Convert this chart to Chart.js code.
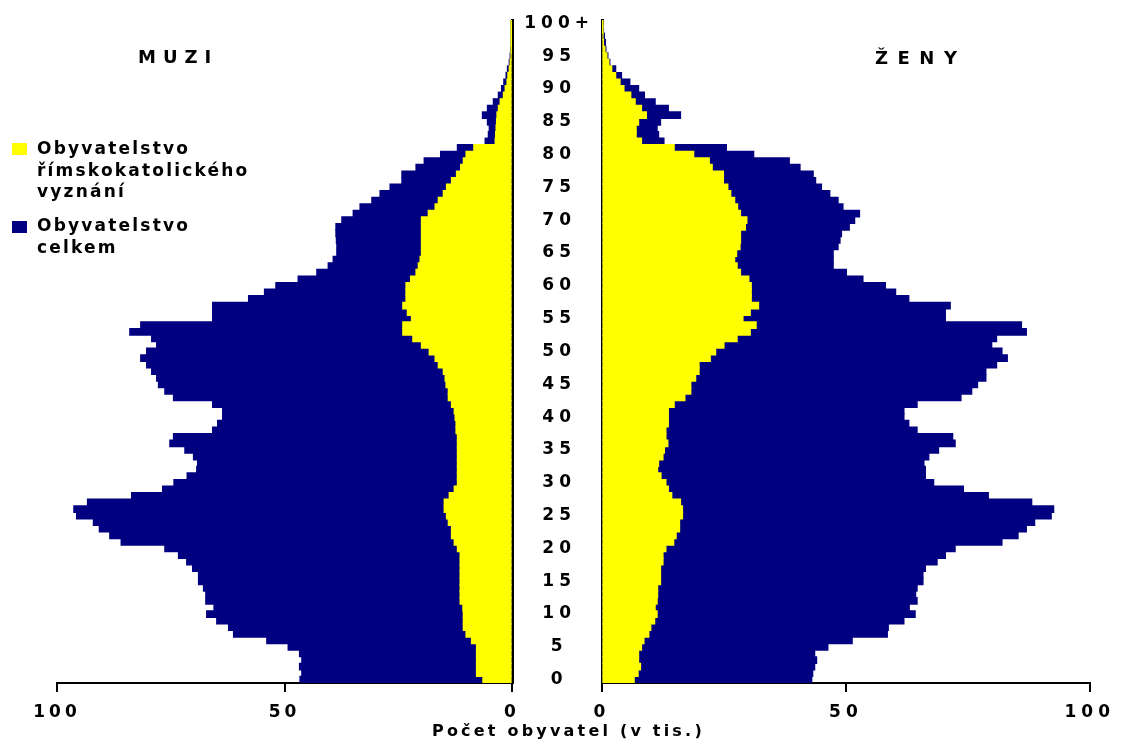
<!DOCTYPE html>
<html>
<head>
<meta charset="utf-8">
<script src="https://cdn.jsdelivr.net/npm/chart.js@4.4.1/dist/chart.umd.min.js"></script>
<style>
  html, body { margin: 0; padding: 0; background: #ffffff; }
  #wrap { position: relative; width: 1125px; height: 740px; overflow: hidden; background: #fff; }
  canvas { position: absolute; left: 0; top: 0; }
  .txt { position: absolute; font-family: "DejaVu Sans", sans-serif; color: #000; white-space: nowrap; font-weight: bold; }
  .sq { position: absolute; width: 15px; height: 12px; }
</style>
</head>
<body>
<div id="wrap">
  <canvas id="men" width="1125" height="740"></canvas>
  <canvas id="women" width="1125" height="740"></canvas>
  <div class="txt" style="left:138px; top:48px; font-size:18px; line-height:18px; letter-spacing:7px;">MUZI</div>
  <div class="txt" style="left:875px; top:49px; font-size:18px; line-height:18px; letter-spacing:9.5px;">ŽENY</div>
  <div class="sq" style="left:12px; top:143px; background:#FFFF00;"></div>
  <div class="txt" style="left:37px; top:138px; font-size:17px; line-height:21.5px; letter-spacing:2.2px;">Obyvatelstvo<br>římskokatolického<br>vyznání</div>
  <div class="sq" style="left:12px; top:221px; background:#000080;"></div>
  <div class="txt" style="left:37px; top:215px; font-size:17px; line-height:21.5px; letter-spacing:2.2px;">Obyvatelstvo<br>celkem</div>
  <div class="txt" style="left:432px; top:723px; font-size:16px; line-height:16px; letter-spacing:3.2px;">Počet obyvatel (v tis.)</div>
</div>
<script>
// Age categories 0..100 ("100+" for the last)
const ages = Array.from({ length: 101 }, (_, i) => (i === 100 ? '100+' : String(i)));
const xTicks = [0, 50, 100];

// Men, total population (thousands), index = age
const menTotal = [
  46.6, 46.2, 46.7, 46.2, 46.7, 49.2, 53.9, 61.2, 62.3, 64.9,
  67.1, 65.5, 67.3, 67.3, 67.8, 68.9, 68.9, 70.2, 71.5, 73.3,
  76.3, 85.9, 88.4, 90.7, 92.0, 95.7, 96.3, 93.3, 83.6, 76.8,
  74.3, 71.4, 69.3, 69.1, 70.0, 71.9, 75.2, 74.4, 65.8, 64.7,
  63.6, 63.6, 65.8, 74.4, 76.3, 77.7, 78.1, 79.2, 80.3, 81.6,
  80.3, 78.1, 79.2, 84.0, 81.6, 65.8, 65.8, 65.8, 57.9, 54.4,
  51.9, 47.0, 42.9, 40.4, 39.3, 38.5, 38.5, 38.6, 38.7, 38.7,
  37.4, 34.9, 33.4, 30.8, 29.0, 26.8, 24.2, 24.2, 21.1, 19.3,
  15.7, 12.0, 5.9, 5.2, 5.0, 5.4, 6.5, 5.4, 4.1, 3.0,
  2.3, 1.8, 1.3, 1.0, 0.6, 0.4, 0.3, 0.2, 0.15, 0.1,
  0.1
];
// Men, Roman Catholic (thousands)
const menRC = [
  6.4, 7.8, 7.8, 7.8, 7.8, 7.8, 8.9, 10.1, 10.7, 10.7,
  10.7, 10.8, 11.4, 11.4, 11.4, 11.4, 11.4, 11.4, 11.4, 11.4,
  12.0, 12.7, 13.3, 13.3, 14.0, 14.4, 14.9, 14.9, 13.8, 12.7,
  12.0, 12.0, 12.0, 12.0, 12.0, 12.0, 12.0, 12.0, 12.3, 12.3,
  12.5, 12.7, 13.3, 14.0, 14.0, 14.5, 14.7, 15.1, 16.2, 16.9,
  18.2, 19.9, 21.8, 24.0, 24.0, 22.1, 23.0, 24.0, 23.3, 23.3,
  23.3, 22.3, 21.1, 20.6, 20.2, 19.9, 19.9, 19.9, 19.9, 19.9,
  19.9, 18.4, 16.9, 16.2, 15.1, 14.4, 13.3, 12.2, 11.3, 10.7,
  10.1, 8.4, 3.7, 3.6, 3.5, 3.4, 3.3, 3.0, 2.6, 1.9,
  1.5, 1.1, 0.9, 0.6, 0.4, 0.2, 0.15, 0.1, 0.08, 0.05,
  0.05
];
// Women, total population (thousands)
const womenTotal = [
  43.0, 43.2, 43.6, 44.0, 43.6, 46.3, 51.3, 58.5, 58.7, 61.9,
  64.2, 63.0, 64.6, 64.3, 64.6, 65.8, 65.8, 66.3, 68.7, 70.4,
  72.4, 82.0, 85.3, 87.0, 88.7, 92.1, 92.6, 88.1, 79.2, 74.1,
  68.0, 66.3, 66.3, 66.0, 67.0, 69.0, 72.4, 71.9, 64.6, 62.9,
  61.9, 61.9, 64.6, 73.6, 75.8, 77.0, 78.7, 78.7, 80.9, 83.1,
  82.0, 79.9, 80.9, 87.0, 86.0, 70.4, 70.4, 71.4, 62.9, 60.2,
  58.1, 53.5, 50.1, 47.4, 47.4, 47.4, 48.4, 48.8, 49.1, 50.7,
  51.8, 52.8, 49.4, 48.4, 46.7, 45.0, 43.8, 43.3, 40.6, 38.4,
  31.1, 25.5, 12.7, 11.6, 11.3, 12.0, 16.1, 13.6, 10.9, 8.7,
  7.5, 5.7, 4.0, 2.8, 1.6, 1.2, 0.8, 0.7, 0.5, 0.3,
  0.2
];
// Women, Roman Catholic (thousands)
const womenRC = [
  6.6, 7.4, 7.9, 7.5, 7.5, 8.1, 8.6, 9.6, 10.0, 10.8,
  11.3, 10.9, 11.3, 11.4, 11.4, 12.0, 12.0, 12.0, 12.5, 12.5,
  13.1, 14.7, 15.2, 15.9, 15.9, 16.5, 16.5, 16.1, 14.3, 13.6,
  13.1, 12.1, 11.4, 11.6, 12.5, 12.8, 13.5, 13.1, 13.1, 13.6,
  13.6, 13.6, 14.8, 17.0, 18.2, 18.2, 19.2, 19.9, 19.9, 22.2,
  23.3, 25.0, 27.7, 30.4, 31.6, 28.9, 30.4, 32.1, 30.6, 30.6,
  30.6, 30.1, 28.4, 27.7, 27.2, 27.6, 28.3, 28.4, 28.4, 29.4,
  29.7, 28.4, 27.8, 27.2, 26.4, 25.8, 24.9, 24.9, 22.6, 22.0,
  18.8, 14.8, 8.1, 7.0, 7.0, 7.5, 9.1, 8.1, 6.8, 5.9,
  4.5, 3.7, 2.8, 2.0, 1.4, 1.0, 0.6, 0.3, 0.2, 0.1,
  0.1
];

const YELLOW = '#FFFF00';
const NAVY = '#000080';
const tickFont = { family: 'DejaVu Sans', size: 17, weight: 'bold' };

const spacingPlugin = {
  id: 'spacing',
  beforeLayout(chart, args, opts) { chart.ctx.letterSpacing = (opts.px || 0) + 'px'; },
  beforeDraw(chart, args, opts) { chart.ctx.letterSpacing = (opts.px || 0) + 'px'; }
};

function makeDatasets(rc, total) {
  const common = { grouped: false, barPercentage: 1, categoryPercentage: 1, borderWidth: 0, inflateAmount: 0.6 };
  return [
    Object.assign({ label: 'Obyvatelstvo římskokatolického vyznání', data: rc, backgroundColor: YELLOW }, common),
    Object.assign({ label: 'Obyvatelstvo celkem', data: total, backgroundColor: NAVY }, common)
  ];
}

function xScale(reverse) {
  return {
    type: 'linear', min: 0, max: 100, reverse: reverse, position: 'bottom',
    afterBuildTicks: (s) => { s.ticks = xTicks.map(v => ({ value: v })); },
    afterFit: (s) => { s.height = 57; },
    ticks: { color: '#000', font: tickFont, padding: 10, maxRotation: 0, autoSkip: false },
    grid: { display: true, drawOnChartArea: false, drawTicks: true, tickLength: 9, color: '#000', lineWidth: 2 },
    border: { display: true, color: '#000', width: 2 }
  };
}

// Men (left)
new Chart(document.getElementById('men'), {
  type: 'bar',
  data: { labels: ages, datasets: makeDatasets(menRC, menTotal) },
  plugins: [spacingPlugin],
  options: {
    indexAxis: 'y', responsive: false, animation: false,
    layout: { padding: { left: 57, right: 613, top: 20, bottom: 0 } },
    plugins: { legend: { display: false }, tooltip: { enabled: false }, spacing: { px: 4 } },
    scales: {
      x: xScale(true),
      y: {
        type: 'category', reverse: true, position: 'right', offset: true,
        afterFit: (s) => { s.width = 0; },
        ticks: { display: false },
        grid: { display: false, drawTicks: false },
        border: { display: true, color: '#000', width: 3 }
      }
    }
  }
});

// Women (right) – its y axis carries the age labels
new Chart(document.getElementById('women'), {
  type: 'bar',
  data: { labels: ages, datasets: makeDatasets(womenRC, womenTotal) },
  plugins: [spacingPlugin],
  options: {
    indexAxis: 'y', responsive: false, animation: false,
    layout: { padding: { left: 502, right: 31, top: 20, bottom: 0 } },
    plugins: { legend: { display: false }, tooltip: { enabled: false }, spacing: { px: 5 } },
    scales: {
      x: xScale(false),
      y: {
        type: 'category', reverse: true, position: 'left', offset: true,
        afterFit: (s) => { s.width = 100; },
        ticks: {
          autoSkip: false, color: '#000', font: tickFont, padding: 8, crossAlign: 'center',
          callback: function (val, idx) { return idx % 5 === 0 ? ages[idx] : ''; }
        },
        grid: { display: false, drawTicks: false },
        border: { display: true, color: '#000', width: 3 }
      }
    }
  }
});
</script>
</body>
</html>
